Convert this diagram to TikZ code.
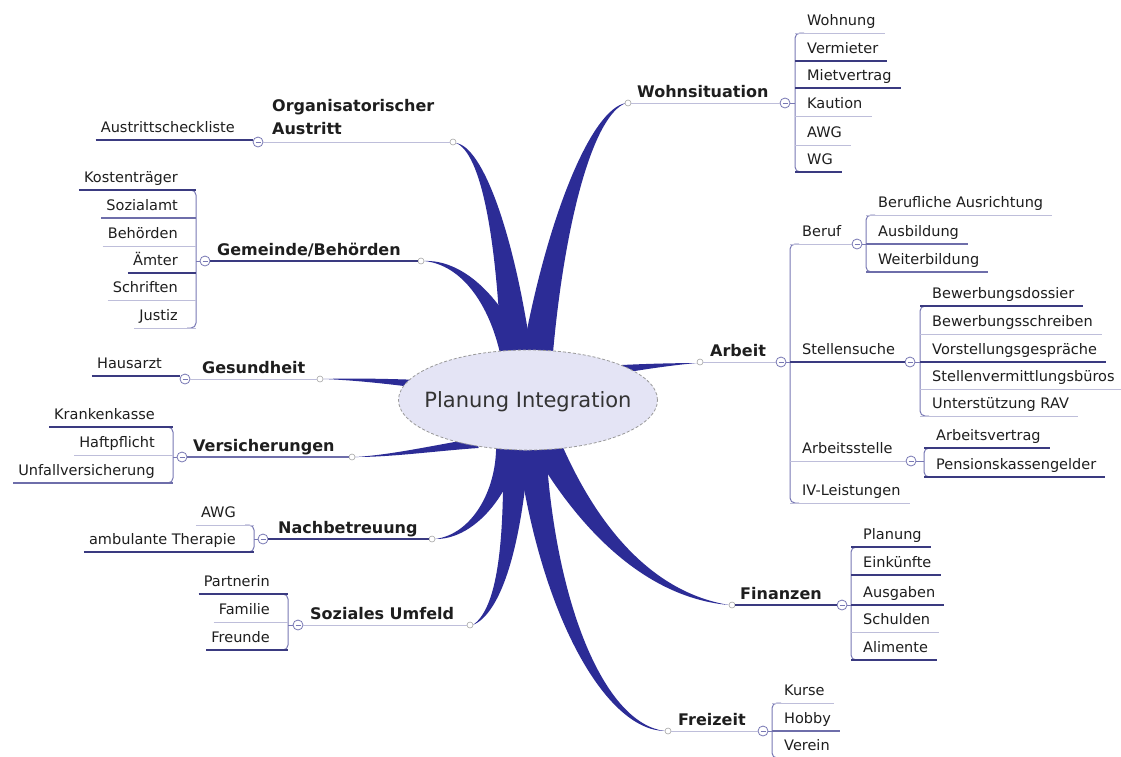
\documentclass[tikz,border=0pt]{standalone}
\usepackage{fontspec}
\setmainfont{DejaVu Sans}
\usetikzlibrary{calc}
\definecolor{brc}{RGB}{44,44,150}
\definecolor{uldark}{RGB}{58,58,128}
\definecolor{ulmed}{RGB}{110,110,170}
\definecolor{ullight}{RGB}{190,190,218}
\definecolor{brk}{RGB}{120,120,180}
\definecolor{txt}{RGB}{30,30,30}
\definecolor{ellfill}{RGB}{228,228,245}
\tikzset{
 ulD/.style={draw=uldark, line width=1.8pt},
 ulM/.style={draw=ulmed, line width=1.2pt},
 ulL/.style={draw=ullight, line width=1pt},
 brkline/.style={draw=brk, line width=1pt, rounded corners=5pt},
 ctext/.style={font=\fontsize{14.5}{16}\selectfont, text=txt, inner xsep=3pt, inner ysep=0pt, text height=10pt, text depth=7pt},
 mtext/.style={font=\bfseries\fontsize{16}{23}\selectfont, text=txt, inner sep=0pt, anchor=base west},
 tipdot/.style={circle, draw=gray!70, fill=white, inner sep=0pt, minimum size=6pt, line width=0.6pt},
 coll/.style={circle, draw=brk, fill=white, inner sep=0pt, minimum size=10pt, line width=0.8pt,
   path picture={\draw[brk, line width=0.8pt] ([xshift=2.5pt]path picture bounding box.west) -- ([xshift=-2.5pt]path picture bounding box.east);}},
 branchfill/.style={fill=brc},
}
\newcommand\organic[5]{%
  \pgfmathsetlengthmacro\owa{#5}%
  \pgfmathsetlengthmacro\owb{#5*0.6}%
  \pgfmathsetlengthmacro\owc{#5*0.22}%
  \fill[branchfill] ($(#1)!\owa!90:(#2)$) .. controls ($(#2)!\owb!90:(#3)$) and ($(#3)!\owc!90:(#4)$) .. (#4)
     .. controls ($(#3)!\owc!-90:(#4)$) and ($(#2)!\owb!-90:(#3)$) .. ($(#1)!\owa!-90:(#2)$) -- cycle;%
}
\newcommand\rchild[5][ulL]{%
  \node[ctext, anchor=south west] (#2) at (#3+9,#4) {#5};
  \draw[#1] (#3,#4) -- ($(#2.south east)+(6,0)$);%
}
\newcommand\lchild[5][ulL]{%
  \node[ctext, anchor=south east] (#2) at (#3-15,#4) {#5};
  \draw[#1] ($(#2.south west)+(-2,0)$) -- (#3,#4);%
}
\begin{document}
\begin{tikzpicture}[x=1pt,y=-1pt]
\fill[white] (0,0) rectangle (1121,756);
\useasboundingbox (0,0) rectangle (1121,756);

% organic branches
\organic{516,352}{505,235}{482,150}{456,143}{15}
\organic{512,352}{495,300}{462,262}{424,261}{12}
\organic{538,352}{556,220}{592,112}{626,103}{15}
\organic{420,384}{385,381}{350,379}{323,379}{4}
\organic{478,443}{435,448}{392,456}{355,457}{5}
\organic{622,369}{650,366}{675,364}{697,363}{4}
\organic{508,448}{502,495}{472,537}{435,539}{12}
\organic{516,450}{512,560}{496,612}{473,625}{13}
\organic{532,450}{548,610}{605,727}{665,731}{14}
\organic{548,448}{590,530}{650,595}{729,605}{14}

% central topic
\draw[draw=gray!80, dash pattern=on 3pt off 2pt, fill=ellfill, line width=0.8pt] (528,400) ellipse [x radius=129.5pt, y radius=50pt];
\node[font=\fontsize{21}{24}\selectfont, text=black!80] (ctr) at (528,402) {Planung Integration};

% ---------- Wohnsituation ----------
\node[tipdot] (tWoh) at (628,103) {};
\node[coll] (cWoh) at (785,103) {};
\coordinate (bWoh) at (795,103);
\node[mtext] (nWoh) at (637,97) {Wohnsituation};
\draw[ulL] (tWoh) -- (cWoh);
\draw[brkline] (cWoh) -- (bWoh);
\draw[brkline] (795+9,33) -| (bWoh) |- (795+9,172);
\rchild{wo1}{795}{33}{Wohnung}
\rchild[ulD]{wo2}{795}{61}{Vermieter}
\rchild[ulD]{wo3}{795}{88}{Mietvertrag}
\rchild{wo4}{795}{116}{Kaution}
\rchild{wo5}{795}{145}{AWG}
\rchild[ulD]{wo6}{795}{172}{WG}

% ---------- Arbeit ----------
\node[tipdot] (tArb) at (700,362) {};
\node[coll] (cArb) at (781,362) {};
\coordinate (bArb) at (790,362);
\node[mtext] (nArb) at (710,356) {Arbeit};
\draw[ulL] (tArb) -- (cArb);
\draw[brkline] (cArb) -- (bArb);
\draw[brkline] (790+9,244) -| (bArb) |- (790+9,503);
\rchild{ber}{790}{244}{Beruf}
\rchild[ulD]{ste}{790}{362}{Stellensuche}
\rchild{ast}{790}{461}{Arbeitsstelle}
\rchild{ivl}{790}{503}{IV-Leistungen}
% Beruf
\node[coll] (cBer) at (857,244) {};
\coordinate (bBer) at (866,244);
\draw[ulL] (ber.south east) -- (cBer);
\draw[brkline] (cBer) -- (bBer);
\draw[brkline] (866+9,215) -| (bBer) |- (866+9,272);
\rchild{be1}{866}{215}{Berufliche Ausrichtung}
\rchild[ulM]{be2}{866}{244}{Ausbildung}
\rchild[ulM]{be3}{866}{272}{Weiterbildung}
% Stellensuche
\node[coll] (cSte) at (910,362) {};
\coordinate (bSte) at (920,362);
\draw[ulD] (ste.south east) -- (cSte);
\draw[brkline] (cSte) -- (bSte);
\draw[brkline] (920+9,306) -| (bSte) |- (920+9,416);
\rchild[ulD]{st1}{920}{306}{Bewerbungsdossier}
\rchild{st2}{920}{334}{Bewerbungsschreiben}
\rchild[ulD]{st3}{920}{362}{Vorstellungsgespräche}
\rchild{st4}{920}{389}{Stellenvermittlungsbüros}
\rchild{st5}{920}{416}{Unterstützung RAV}
% Arbeitsstelle
\node[coll] (cAst) at (911,461) {};
\coordinate (bAst) at (924,461);
\draw[ulL] (ast.south east) -- (cAst);
\draw[brkline] (cAst) -- (bAst);
\draw[brkline] (924+9,448) -| (bAst) |- (924+9,477);
\rchild[ulD]{as1}{924}{448}{Arbeitsvertrag}
\rchild[ulD]{as2}{924}{477}{Pensionskassengelder}

% ---------- Finanzen ----------
\node[tipdot] (tFin) at (732,605) {};
\node[coll] (cFin) at (842,605) {};
\coordinate (bFin) at (851,605);
\node[mtext] (nFin) at (740,599) {Finanzen};
\draw[ulD] (tFin) -- (cFin);
\draw[brkline] (cFin) -- (bFin);
\draw[brkline] (851+9,547) -| (bFin) |- (851+9,660);
\rchild[ulD]{fi1}{851}{547}{Planung}
\rchild[ulD]{fi2}{851}{575}{Einkünfte}
\rchild[ulD]{fi3}{851}{605}{Ausgaben}
\rchild{fi4}{851}{632}{Schulden}
\rchild[ulD]{fi5}{851}{660}{Alimente}

% ---------- Freizeit ----------
\node[tipdot] (tFre) at (668,731) {};
\node[coll] (cFre) at (763,731) {};
\coordinate (bFre) at (772,731);
\node[mtext] (nFre) at (678,725) {Freizeit};
\draw[ulL] (tFre) -- (cFre);
\draw[brkline] (cFre) -- (bFre);
\draw[brkline] (772+9,703) -| (bFre) |- (772+9,758);
\rchild{fr1}{772}{703}{Kurse}
\rchild[ulM]{fr2}{772}{731}{Hobby}
\rchild{fr3}{772}{758}{Verein}

% ---------- Organisatorischer Austritt ----------
\node[tipdot] (tOrg) at (453,142) {};
\node[coll] (cOrg) at (258,142) {};
\node[mtext, anchor=north west, align=left] (nOrg) at (272,99) {Organisatorischer\\Austritt};
\draw[ulL] (cOrg) -- (tOrg);
\lchild[ulD]{aus}{253}{140}{Austrittscheckliste}

% ---------- Gemeinde/Behörden ----------
\node[tipdot] (tGem) at (421,261) {};
\node[coll] (cGem) at (205,261) {};
\coordinate (bGem) at (196,261);
\node[mtext] (nGem) at (217,255) {Gemeinde/Behörden};
\draw[ulD] (cGem) -- (tGem);
\draw[brkline] (cGem) -- (bGem);
\draw[brkline] (196-9,190) -| (bGem) |- (196-9,328);
\lchild[ulD]{ge1}{196}{190}{Kostenträger}
\lchild[ulM]{ge2}{196}{218}{Sozialamt}
\lchild{ge3}{196}{246}{Behörden}
\lchild[ulD]{ge4}{196}{273}{Ämter}
\lchild{ge5}{196}{300}{Schriften}
\lchild{ge6}{196}{328}{Justiz}

% ---------- Gesundheit ----------
\node[tipdot] (tGes) at (320,379) {};
\node[coll] (cGes) at (185,379) {};
\node[mtext] (nGes) at (202,373) {Gesundheit};
\draw[ulL] (cGes) -- (tGes);
\lchild[ulD]{hau}{180}{376}{Hausarzt}

% ---------- Versicherungen ----------
\node[tipdot] (tVer) at (352,457) {};
\node[coll] (cVer) at (182,457) {};
\coordinate (bVer) at (173,457);
\node[mtext] (nVer) at (193,451) {Versicherungen};
\draw[ulM] (cVer) -- (tVer);
\draw[brkline] (cVer) -- (bVer);
\draw[brkline] (173-9,427) -| (bVer) |- (173-9,483);
\lchild[ulD]{ve1}{173}{427}{Krankenkasse}
\lchild{ve2}{173}{455}{Haftpflicht}
\lchild[ulM]{ve3}{173}{483}{Unfallversicherung}

% ---------- Nachbetreuung ----------
\node[tipdot] (tNac) at (432,539) {};
\node[coll] (cNac) at (263,539) {};
\coordinate (bNac) at (254,539);
\node[mtext] (nNac) at (278,533) {Nachbetreuung};
\draw[ulD] (cNac) -- (tNac);
\draw[brkline] (cNac) -- (bNac);
\draw[brkline] (254-9,525) -| (bNac) |- (254-9,552);
\lchild{na1}{254}{525}{AWG}
\lchild[ulD]{na2}{254}{552}{ambulante Therapie}

% ---------- Soziales Umfeld ----------
\node[tipdot] (tSoz) at (470,625) {};
\node[coll] (cSoz) at (298,625) {};
\coordinate (bSoz) at (288,625);
\node[mtext] (nSoz) at (310,619) {Soziales Umfeld};
\draw[ulL] (cSoz) -- (tSoz);
\draw[brkline] (cSoz) -- (bSoz);
\draw[brkline] (288-9,594) -| (bSoz) |- (288-9,650);
\lchild[ulD]{so1}{288}{594}{Partnerin}
\lchild{so2}{288}{622}{Familie}
\lchild[ulD]{so3}{288}{650}{Freunde}
\end{tikzpicture}
\end{document}
